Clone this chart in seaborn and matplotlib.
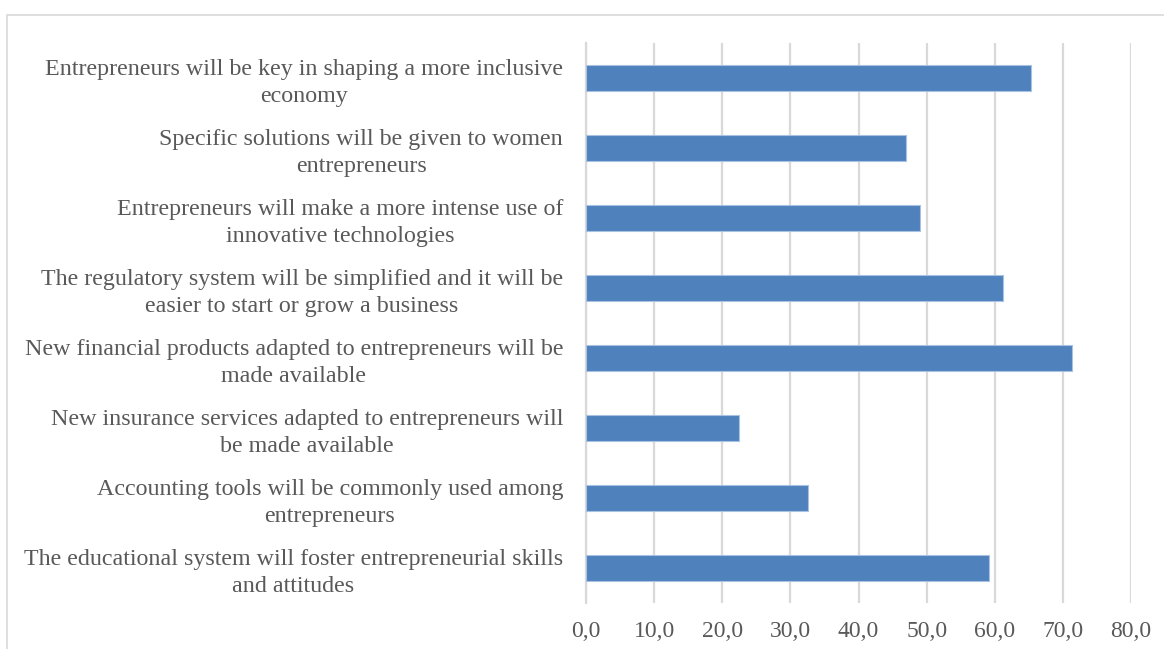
import matplotlib
matplotlib.use("Agg")
import matplotlib.pyplot as plt
import matplotlib.patches as mpatches
import seaborn as sns
import pandas as pd

statements = [
    "Entrepreneurs will be key in shaping a more inclusive\neconomy",
    "Specific solutions will be given to women\nentrepreneurs",
    "Entrepreneurs will make a more intense use of\ninnovative technologies",
    "The regulatory system will be simplified and it will be\neasier to start or grow a business",
    "New financial products adapted to entrepreneurs will be\nmade available",
    "New insurance services adapted to entrepreneurs will\nbe made available",
    "Accounting tools will be commonly used among\nentrepreneurs",
    "The educational system will foster entrepreneurial skills\nand attitudes",
]
shares = [65.3, 47.0, 49.0, 61.2, 71.4, 22.5, 32.6, 59.1]
x_ticks = [0, 10, 20, 30, 40, 50, 60, 70, 80]
x_tick_labels = ["0,0", "10,0", "20,0", "30,0", "40,0", "50,0", "60,0", "70,0", "80,0"]

sns.set_theme(style="white")
plt.rcParams["font.family"] = ["Liberation Serif", "DejaVu Serif"]

df = pd.DataFrame({"statement": statements, "share": shares})

fig = plt.figure(figsize=(11.64, 6.49), dpi=100)
ax = fig.add_axes([586 / 1164, 1 - 603 / 649, (1131 - 586) / 1164, (603 - 43) / 649])

sns.barplot(data=df, x="share", y="statement", orient="h", ax=ax,
            color="#4F81BD", saturation=1, width=0.36,
            edgecolor="#A9C2E2", linewidth=0.8, zorder=3)

ax.set_xlim(0, 80)
ax.set_xticks(x_ticks)
ax.set_xticklabels(x_tick_labels)
ax.set_xlabel("")
ax.set_ylabel("")
ax.grid(axis="x", color="#D9D9D9", linewidth=1.6, zorder=0)
ax.grid(axis="y", visible=False)
ax.set_axisbelow(True)

for side in ["top", "right", "bottom"]:
    ax.spines[side].set_visible(False)
ax.spines["left"].set_color("#D9D9D9")
ax.spines["left"].set_linewidth(1.6)

ax.tick_params(axis="x", length=0, pad=13, labelsize=17, labelcolor="#595959")
ax.tick_params(axis="y", length=0, pad=16.5, labelsize=17.3, labelcolor="#595959")
for lbl in ax.get_yticklabels():
    lbl.set_multialignment("center")
    lbl.set_linespacing(1.35)

# Light chart-area border
fig.patches.append(mpatches.Rectangle((7 / 1164, -0.05), 1.2, 1 - 15 / 649 + 0.05,
                                      transform=fig.transFigure, fill=False,
                                      edgecolor="#D9D9D9", linewidth=1.2))

fig.savefig("out.png", dpi=100, facecolor="white")
